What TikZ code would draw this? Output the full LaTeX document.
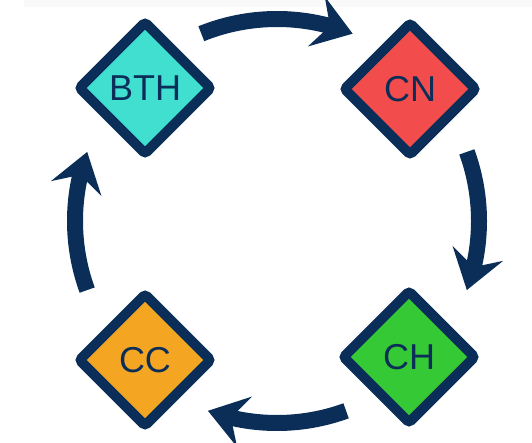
\documentclass[tikz,border=0pt]{standalone}
\usepackage{fontspec}
\newfontfamily\stagefont{Liberation Sans}
\usetikzlibrary{calc,positioning,arrows.meta,bending,shapes.geometric}
\definecolor{navy}{HTML}{0B2E58}
\definecolor{bthfill}{HTML}{40DFD0}
\definecolor{cnfill}{HTML}{F24C4C}
\definecolor{chfill}{HTML}{36C936}
\definecolor{ccfill}{HTML}{F4A622}
\definecolor{topband}{HTML}{F9F9F9}

\begin{document}
\begin{tikzpicture}[
  x=1pt, y=1pt,
  stage/.style={diamond, draw=navy, line width=10pt, rounded corners=3pt,
    minimum size=135pt, inner sep=0pt, text=navy,
    font=\stagefont\fontsize{36}{36}\selectfont},
  cyc/.style={draw=navy, line width=16pt,
    -{Stealth[length=38pt,width=52pt,inset=14pt]}},
  ]
  \useasboundingbox (0,0) rectangle (532,442);
  \fill[topband] (24,435) rectangle (532,442);

  \coordinate (ctr) at (277,221);

  \node[stage, fill=bthfill] (bth) at (145,354) {BTH};
  \node[stage, fill=cnfill]  (cn)  at (410,353) {CN};
  \node[stage, fill=chfill]  (ch)  at (409,85)  {CH};
  \node[stage, fill=ccfill]  (cc)  at (145,82)  {CC};

  \foreach \s/\e in {112/68,20/-20,-70/-110,200/160}
  {
  \draw[cyc] ($(ctr)+(\s:202)$) arc[start angle=\s, end angle=\e, radius=202];
  }

\end{tikzpicture}
\end{document}
